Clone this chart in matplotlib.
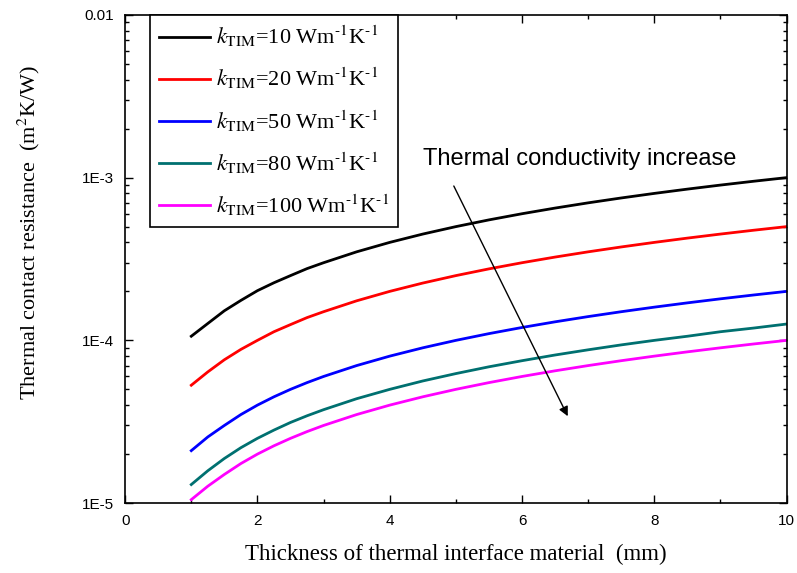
import matplotlib
matplotlib.use("Agg")
import matplotlib.pyplot as plt
from matplotlib.ticker import FixedLocator, FixedFormatter, LogLocator, NullFormatter, MultipleLocator

plt.rcParams['mathtext.fontset'] = 'stix'

# thickness of TIM (mm)
thickness = [1.0, 1.25, 1.5, 1.75, 2.0, 2.25, 2.5, 2.75, 3.0, 3.5, 4.0, 4.5, 5.0, 5.5,
             6.0, 6.5, 7.0, 7.5, 8.0, 8.5, 9.0, 9.5, 10.0]

# thermal contact resistance (m^2K/W)
r_k10 = [1.06e-4, 1.27e-4, 1.52e-4, 1.76e-4, 2.02e-4, 2.26e-4, 2.5e-4, 2.76e-4, 3.0e-4,
         3.5e-4, 4.0e-4, 4.5e-4, 5.0e-4, 5.5e-4, 6.0e-4, 6.5e-4, 7.0e-4, 7.5e-4, 8.0e-4,
         8.5e-4, 9.0e-4, 9.5e-4, 1.0e-3]
r_k20 = [5.3e-5, 6.4e-5, 7.6e-5, 8.8e-5, 1.0e-4, 1.13e-4, 1.25e-4, 1.38e-4, 1.5e-4,
         1.75e-4, 2.0e-4, 2.25e-4, 2.5e-4, 2.75e-4, 3.0e-4, 3.25e-4, 3.5e-4, 3.75e-4, 4.0e-4,
         4.25e-4, 4.5e-4, 4.75e-4, 5.0e-4]
r_k50 = [2.1e-5, 2.55e-5, 3.0e-5, 3.5e-5, 4.0e-5, 4.5e-5, 5.0e-5, 5.5e-5, 6.0e-5,
         7.0e-5, 8.0e-5, 9.0e-5, 1.0e-4, 1.1e-4, 1.2e-4, 1.3e-4, 1.4e-4, 1.5e-4, 1.6e-4,
         1.7e-4, 1.8e-4, 1.9e-4, 2.0e-4]
r_k80 = [1.3e-5, 1.58e-5, 1.88e-5, 2.19e-5, 2.5e-5, 2.81e-5, 3.13e-5, 3.44e-5, 3.75e-5,
         4.38e-5, 5.0e-5, 5.63e-5, 6.25e-5, 6.88e-5, 7.5e-5, 8.13e-5, 8.75e-5, 9.38e-5, 1.0e-4,
         1.06e-4, 1.13e-4, 1.19e-4, 1.26e-4]
r_k100 = [1.05e-5, 1.27e-5, 1.5e-5, 1.75e-5, 2.0e-5, 2.25e-5, 2.5e-5, 2.75e-5, 3.0e-5,
          3.5e-5, 4.0e-5, 4.5e-5, 5.0e-5, 5.5e-5, 6.0e-5, 6.5e-5, 7.0e-5, 7.5e-5, 8.0e-5,
          8.5e-5, 9.0e-5, 9.5e-5, 1.0e-4]

k_values = [10, 20, 50, 80, 100]
series = [r_k10, r_k20, r_k50, r_k80, r_k100]
colors = ['black', '#ff0000', '#0000ff', '#007070', '#ff00ff']

y_ticks = [1e-5, 1e-4, 1e-3, 1e-2]
y_labels = ['1E-5', '1E-4', '1E-3', '0.01']

fig = plt.figure(figsize=(7.97, 5.73), dpi=100)
ax = fig.add_axes([0.157, 0.122, 0.83, 0.852])

for k, r, c in zip(k_values, series, colors):
    ax.plot(thickness, r, color=c, lw=2,
            label=r'$k_{\rm TIM}$=' + f'{k} Wm' + r'$^{\text{-}1}$K$^{\text{-}1}$')

ax.set_yscale('log')
ax.set_xlim(0, 10)
ax.set_ylim(1e-5, 1e-2)

ax.xaxis.set_major_locator(MultipleLocator(2))
ax.xaxis.set_minor_locator(MultipleLocator(1))
ax.yaxis.set_major_locator(FixedLocator(y_ticks))
ax.yaxis.set_major_formatter(FixedFormatter(y_labels))
ax.yaxis.set_minor_locator(LogLocator(base=10, subs=range(2, 10)))
ax.yaxis.set_minor_formatter(NullFormatter())

ax.tick_params(which='both', direction='in', top=True, right=True, width=1)
ax.tick_params(which='major', length=6, labelsize=11, pad=8)
ax.tick_params(which='minor', length=3)
for lab in ax.get_xticklabels() + ax.get_yticklabels():
    lab.set_family('Liberation Sans')
for sp in ax.spines.values():
    sp.set_linewidth(1.2)

ax.set_xlabel('Thickness of thermal interface material  (mm)',
              family='Liberation Serif', fontsize=16.5, labelpad=11)
ax.set_ylabel(r'Thermal contact resistance  (m$^2$K/W)',
              family='Liberation Serif', fontsize=16)
ax.yaxis.set_label_coords(-0.125, 0.555)

leg = ax.legend(loc='upper left', bbox_to_anchor=(0.038, 1.0), fancybox=False,
                edgecolor='black', framealpha=1, handlelength=2.3,
                borderaxespad=0, borderpad=0.4, prop={'family': 'Liberation Serif', 'size': 16},
                labelspacing=0.75, handletextpad=0.25)
leg.get_frame().set_linewidth(1.2)

ax.annotate('', xy=(6.71, 3.3e-5), xytext=(4.95, 9.2e-4),
            arrowprops=dict(arrowstyle='-|>', color='black', lw=1,
                            mutation_scale=14))
ax.text(4.5, 1.3e-3, 'Thermal conductivity increase',
        family='Liberation Sans', fontsize=17, va='center', ha='left')

fig.savefig('out.png', dpi=100)
